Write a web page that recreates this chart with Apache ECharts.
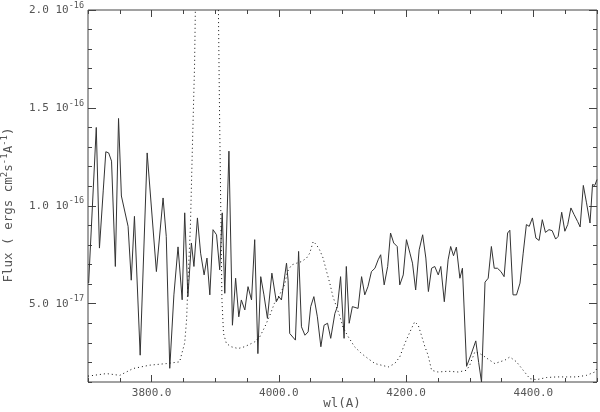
<!DOCTYPE html>
<html>
<head>
<meta charset="utf-8">
<script src="https://cdn.jsdelivr.net/npm/echarts@6/dist/echarts.min.js"></script>
<style>html,body{margin:0;padding:0;background:#fff}#c{width:600px;height:412px}</style>
</head>
<body>
<div id="c"></div>
<script>
// Wavelength (A) and flux in units of 1e-17 ergs cm^-2 s^-1 A^-1
const solidWl = [3701,3713,3718,3724,3728,3732.5,3737,3743,3748,3752.5,3763,3768,3773,3782,3793,3807.5,3818,3823,3828.5,3835,
3841.5,3848,3852,3857,3862.5,3866.5,3872,3877,3882.5,3887,3891.5,3896.5,3902,3907,3911,3915,3921.5,3927,3932,3937,
3941,3946.5,3951.5,3957,3962,3967,3971.5,3976.5,3982,3989,3996,4000,4004,4012,4014.5,4017,4026,4031,4035.5,4041,
4046,4050,4055,4060.5,4066,4071,4076.5,4081.5,4088,4092,4097,4102.5,4106,4110.5,4115.5,4124.5,4130,4135,4140,4145.5,
4151,4156,4160,4165.5,4171,4175.5,4180.5,4186,4190,4195.5,4200.5,4206,4210,4215,4220.5,4226,4231,4235,4240,4245,
4250.5,4254.5,4260,4266,4270,4274.5,4279,4284.5,4288.5,4295,4302,4309.5,4314,4318.5,4324,4329,4334,4338.5,4343.5,4349,
4354,4359.5,4363,4368,4373.5,4379,4384,4389,4393.5,4398.5,4404,4409,4414,4419,4424.5,4429.5,4435,4439,4444.5,4449.5,
4454,4459,4464,4469.5,4473.5,4478.5,4483.5,4489,4493,4496.5,4500];
const solidFlux = [6.05,14.0,7.84,10.8,12.76,12.7,12.28,6.9,14.46,10.5,8.95,6.2,9.46,2.37,12.7,6.64,10.4,8.44,1.7,5.45,
7.9,5.2,9.64,5.36,8.1,6.9,9.38,7.58,6.47,7.33,5.45,8.78,8.52,6.73,9.64,5.53,12.79,3.9,6.3,4.33,
5.19,4.68,5.87,5.19,8.27,2.45,6.38,5.45,4.25,6.56,5.1,5.36,5.19,7.07,6.2,3.48,3.14,7.67,3.82,3.39,
3.56,4.85,5.36,4.33,2.8,3.9,4.0,3.23,4.5,4.85,6.38,3.23,6.9,4.0,4.85,4.76,6.38,5.45,5.87,6.64,
6.81,7.24,7.5,5.96,6.9,8.61,8.1,7.92,5.96,6.47,8.27,7.58,7.07,5.7,7.75,8.52,7.33,5.62,6.81,6.9,
6.47,6.9,5.1,7.24,7.92,7.45,7.89,6.3,6.81,1.8,2.4,3.1,2.0,1.0,6.1,6.3,7.92,6.81,6.81,6.64,
6.38,8.61,8.75,5.45,5.45,6.05,7.58,9.04,8.95,9.38,8.35,8.23,9.29,8.64,8.78,8.73,8.3,8.44,9.67,8.7,
9.04,9.89,9.55,9.2,8.92,11.04,10.15,9.12,11.09,11.04,11.34];

const dottedWl = [3700,3729,3750,3771,3797,3823,3844,3847,3852,3855,3857,3861,3864,3867.5,3870,3880,3895,3904,3906.5,3908.5,
3910.5,3913,3917.5,3925,3936,3946,3957,3962,3970,3978,3986,3993,4001,4009,4013.5,4020,4028,4035.5,4043.5,4048.5,
4054,4059,4064,4069.5,4075,4080,4085,4090.5,4096,4101,4109,4119,4130,4140,4151,4161,4172,4182,4190,4198,
4206,4213.5,4219,4224,4229.5,4234.5,4240,4250,4266,4282,4295,4300,4308,4316,4324,4331.5,4339.5,4347,4355,4363,
4373.5,4384,4394.5,4405,4421,4436.5,4452,4468,4483.5,4496.5,4500];
const dottedFlux = [1.3,1.43,1.34,1.69,1.86,1.94,2.03,2.4,3.0,4.2,6.0,9.0,12.9,17.2,23,35,35,23,15.4,10.3,
5.2,3.48,2.97,2.8,2.71,2.8,2.97,3.05,3.31,3.82,4.42,5.02,5.45,5.96,6.64,6.98,7.07,7.15,7.33,7.58,
8.18,8.01,7.75,7.33,6.64,6.05,5.36,4.85,4.33,3.78,3.31,2.8,2.45,2.2,1.94,1.86,1.77,1.94,2.28,2.97,
3.56,4.08,3.9,3.39,2.8,2.37,1.6,1.51,1.55,1.51,1.6,1.86,2.54,2.45,2.28,2.11,1.94,2.03,2.11,2.28,
2.03,1.6,1.17,1.12,1.23,1.26,1.26,1.26,1.34,1.51,1.69];

const xLabelValues = [3800,4000,4200,4400];
const xLabelTexts = ['3800.0','4000.0','4200.0','4400.0'];
const yLabelValues = [5,10,15,20];
const yLabelMant = ['5.0','1.0','1.5','2.0'];
const yLabelExp = ['-17','-16','-16','-16'];

const FONT = 'DejaVu Sans Mono';
const TXT = '#555';
const AX = '#444';

const chart = echarts.init(document.getElementById('c'), null, {renderer:'canvas'});

function xAx(pos, major, labels){
  const a = {type:'value', min:3700, max:4500, position:pos, gridIndex:0,
    axisLine:{show:false}, splitLine:{show:false},
    axisTick:{show:true, inside:true, length: major?7:4, lineStyle:{color:AX}},
    axisLabel:{show:false}};
  if (major){ a.axisTick.customValues = xLabelValues; }
  else { a.interval = 50; }
  if (labels){
    a.axisLabel = {show:true, customValues:xLabelValues, margin:6, color:TXT, fontFamily:FONT, fontSize:11,
      formatter: v => xLabelTexts[xLabelValues.indexOf(Math.round(v))] || ''};
  }
  return a;
}
function yAx(pos, major, labels){
  const a = {type:'value', min:1, max:20, position:pos, gridIndex:0,
    axisLine:{show:false}, splitLine:{show:false},
    axisTick:{show:true, inside:true, length: major?8:4, lineStyle:{color:AX}},
    axisLabel:{show:false}};
  if (major){ a.axisTick.customValues = yLabelValues; }
  else { a.interval = 1; }
  if (labels){
    a.axisLabel = {show:true, customValues:yLabelValues, margin:4, color:TXT, fontFamily:FONT,
      formatter: v => { const i = yLabelValues.indexOf(Math.round(v)); return i<0?'':'{m|'+yLabelMant[i]+' 10}{s|'+yLabelExp[i]+'}'; },
      rich:{
        m:{fontFamily:FONT, fontSize:11, color:TXT, verticalAlign:'bottom', lineHeight:12},
        s:{fontFamily:FONT, fontSize:8.5, color:TXT, verticalAlign:'bottom', lineHeight:9, padding:[0,0,6,0]}
      }};
  }
  return a;
}

const option = {
  animation:false,
  backgroundColor:'#fff',
  grid:{left:88, right:3, top:10, bottom:30, show:true, borderColor:AX, borderWidth:1, backgroundColor:'transparent'},
  xAxis:[xAx('bottom',false,false), xAx('bottom',true,true), xAx('top',false,false), xAx('top',true,false)],
  yAxis:[yAx('left',false,false), yAx('left',true,true), yAx('right',false,false), yAx('right',true,false)],
  series:[
    {type:'line', xAxisIndex:0, yAxisIndex:0, showSymbol:false, clip:true,
     data: solidWl.map((w,i)=>[w, solidFlux[i]]),
     lineStyle:{color:'#333', width:1}},
    {type:'line', xAxisIndex:0, yAxisIndex:0, showSymbol:false, clip:true,
     data: dottedWl.map((w,i)=>[w, dottedFlux[i]]),
     lineStyle:{color:'#111', width:1, type:[1,3]}}
  ],
  graphic:[
    {type:'text', x:9, y:205, rotation:Math.PI/2,
     style:{text:'{a|Flux ( ergs cm}{s|2}{a|s}{s|-1}{a|A}{s|-1}{a|)}', align:'center', verticalAlign:'middle',
       rich:{
         a:{fontFamily:FONT, fontSize:12.5, fill:TXT, verticalAlign:'bottom', lineHeight:13},
         s:{fontFamily:FONT, fontSize:9, fill:TXT, verticalAlign:'bottom', lineHeight:10, padding:[0,0,6,0]}
       }}},
    {type:'text', x:342, y:404, style:{text:'wl(A)', fontFamily:FONT, fontSize:12.5, fill:TXT, align:'center', verticalAlign:'middle'}}
  ]
};
chart.setOption(option);
</script>
</body>
</html>
